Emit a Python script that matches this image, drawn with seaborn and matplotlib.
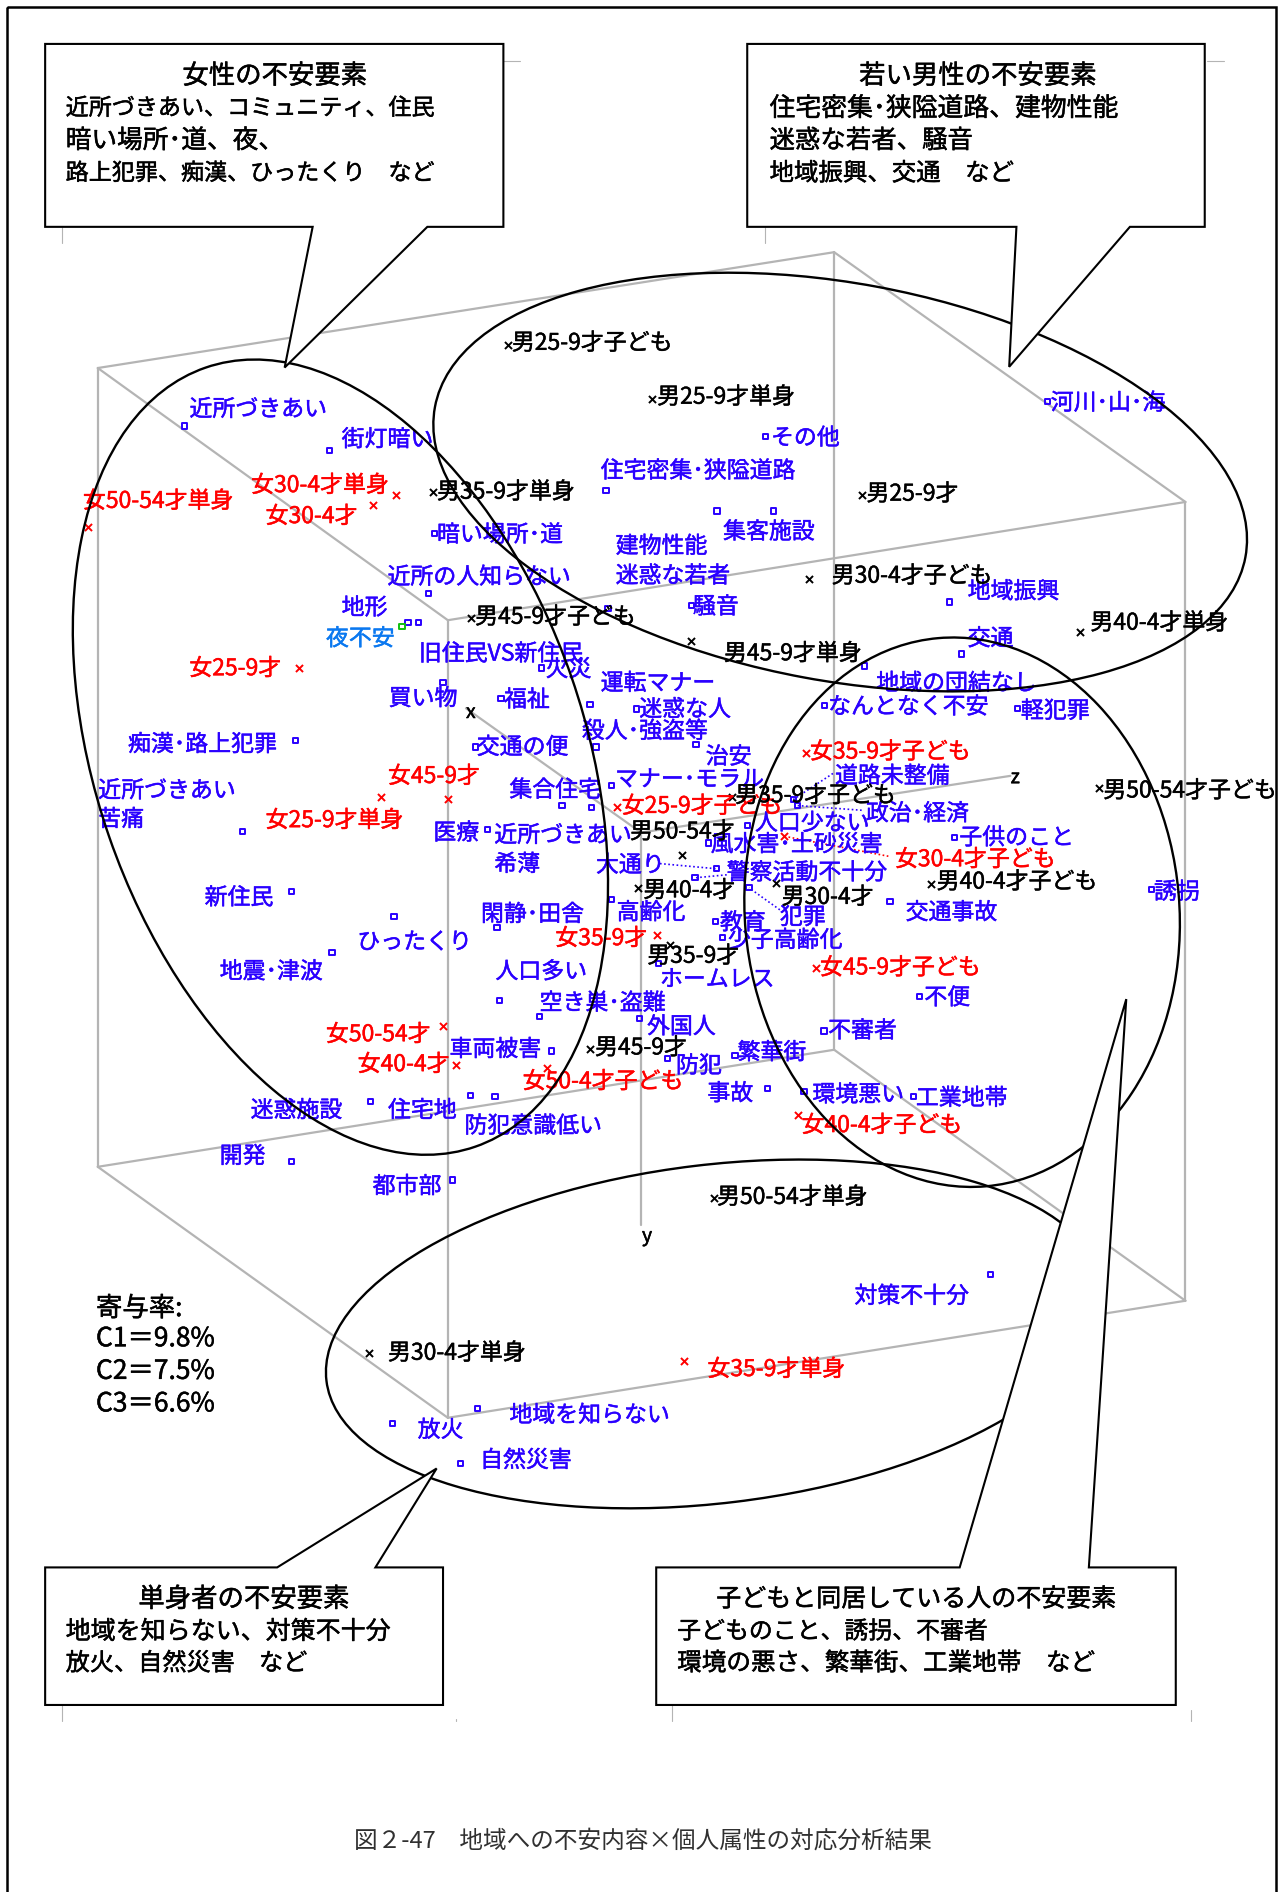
import matplotlib
matplotlib.use("Agg")
import matplotlib.pyplot as plt
import matplotlib.patheffects as pe
from matplotlib.patches import Ellipse, Polygon, Rectangle
import seaborn as sns

# ---- data (units: 1062 x 1568 page space) ----
blue_labels = ["近所づきあい","街灯暗い","暗い場所･道","近所の人知らない","地形","旧住民VS新住民","買い物","火災","福祉","運転マナー",
 "迷惑な人","殺人･強盗等","治安","交通の便","マナー･モラル","集合住宅","医療","近所づきあい","大通り","警察活動不十分",
 "犯罪","高齢化","教育","少子高齢化","ホームレス","空き巣･盗難","外国人","人口多い","閑静･田舎","新住民",
 "ひったくり","地震･津波","車両被害","迷惑施設","住宅地","防犯意識低い","開発","都市部","痴漢･路上犯罪","近所づきあい",
 "住宅密集･狭隘道路","その他","集客施設","建物性能","迷惑な若者","騒音","河川･山･海","地域振興","交通","地域の団結なし",
 "なんとなく不安","軽犯罪","道路未整備","政治･経済","人口少ない","風水害･土砂災害","子供のこと","交通事故","誘拐","不便",
 "不審者","防犯","繁華街","事故","環境悪い","工業地帯","対策不十分","地域を知らない","放火","自然災害"]
blue_mx = [153,273,360,355,347,338,367,448.5,415,488.7,
 527,493.7,576.5,393.6,506.7,465.6,490.3,403.8,593.7,575.7,
 620.5,506.7,593,598.6,545.3,447,529.6,413.6,411.7,241.5,
 326.4,275,457,306.8,390,410,241.5,375,245,201,
 502,634,640.8,594,503.6,572.6,867.7,786.6,796.8,716,
 682.8,843,657,660.5,619,586.8,791,737.2,954,762,
 682.6,553,608.9,636,666,756.8,820.5,395.3,325,381.7]
blue_my = [353,373.5,442,492,516,516,565.5,553.6,578.7,584,
 587.6,619,617,619,650.8,667.6,669,687.5,720,727.5,
 735.8,745.5,763.4,777,798.5,842.7,844.3,829,769,739,
 759.3,789.4,871,912.8,907.8,909,962.8,978,614,689,
 406.7,361.7,423.5,423.5,504,501.6,333,498.9,542,552,
 585,587.5,662.7,667.6,684,698.6,693.9,747.4,737,825.6,
 854.5,877,874.7,902,904.7,908.9,1056,1167.5,1180,1213]
blue_lx = [157,283,362,321,283,347,322,452,417.5,497.6,
 529.6,482,584.6,395,509.5,422,359,409.5,493.7,602,
 646,510.8,596.4,603,546.7,447,536,410.4,398.4,169.5,
 296,182,372.4,207.6,321.4,384.8,182,308.7,106,81.4,
 497.6,638.7,599,510,510,574,870.4,801.6,801.6,725.9,
 686,845.7,691.7,717.3,625.4,588.7,794.7,750.2,956,765.7,
 686,560,611,586,673,758.7,707.8,422,346,397.7]
blue_ly = [338,363,442,477,502.5,540.6,577.6,553.6,578.7,565,
 586.7,604.7,626,618,644.7,653.5,689,691,715.7,722,
 759,755,763.4,778,810.4,830,849.6,804,756.5,742.7,
 779.5,804,868.4,919,919,931.9,957,982,615.7,654,
 389,361.7,439.5,451.4,476,501.6,332.7,489,528,565,
 584.5,588,642,673,681,698.6,693,755,738,825.6,
 853,882,871,905,906,908.9,1073,1171.6,1184,1209]
blue_note_labels = ["希薄","苦痛"]
blue_note_lx = [409.5,81.4]
blue_note_ly = [715,677.8]

red_labels = ["女50-54才単身","女30-4才単身","女30-4才","女25-9才","女45-9才","女25-9才単身","女25-9才子ども","女35-9才子ども",
 "女30-4才子ども","女35-9才","女45-9才子ども","女50-54才","女40-4才","女50-4才子ども","女40-4才子ども","女35-9才単身"]
red_mx = [72.5,327.7,309.3,247.5,371,315.7,510.8,667.4,649.4,544.5,676,367.3,377.8,453,661,566.6]
red_my = [436.8,410,418.3,553.6,662,660.7,669,624,693,775,802,850.4,883,885,924,1128]
red_lx = [68.7,208,220,156.8,321.4,220,515,671,741.4,460,679.3,270,296.3,433,664,586]
red_ly = [414,400.9,426.6,552.7,642,678.6,666.8,621.8,711,776.4,800.7,856,880.8,895,931.3,1133.5]

black_labels = ["男25-9才子ども","男25-9才単身","男35-9才単身","男25-9才","男30-4才子ども","男45-9才子ども","男45-9才単身","男40-4才単身",
 "男35-9才子ども","男50-54才子ども","男50-54才","男40-4才","男30-4才","男40-4才子ども","男35-9才","男45-9才","男50-54才単身","男30-4才単身"]
black_mx = [421,540.4,358.8,714.4,670.3,390.5,572.6,894.8,606,910,564.7,528.8,642.8,771.2,555,488.7,591.2,305.8]
black_my = [286,330.7,408,410,479.8,512,531.5,523.7,660.5,653,708.8,735.8,732.2,732.5,782.8,869,992.7,1121]
black_lx = [424,544.4,362,717.8,689,393.6,599.7,903.3,609,914,521.9,532.9,647.5,775.9,536.2,492.9,594,321.4]
black_ly = [283,327.7,406.4,408,476,510,540.3,514.9,658,654,688,736.7,742.2,729.5,791,867,990.8,1120]

green_labels = ["夜不安"]
green_mx = [333]; green_my = [519]; green_lx = [270]; green_ly = [528]

blue_leader_x = [(546.7,593.7),(602,575.7),(646,620.5),(690,657),(713.8,660.5)]
blue_leader_y = [(715.7,720),(725,727.5),(754,735.8),(641,662.7),(671.5,667.6)]
red_leader_x = [(735.9,649.4)]
red_leader_y = [(709.6,693)]

cube_x = [(81,691),(691,982),(982,371),(371,81),(81,81),(691,691),(982,982),(371,371),(81,691),(691,982),(982,371),(371,81)]
cube_y = [(305,209),(209,416),(416,514),(514,305),(305,967),(209,870),(416,1078),(514,1175),(967,870),(870,1078),(1078,1175),(1175,967)]
axis_x = [(386,531),(531,837),(531,531)]
axis_y = [(587,690),(690,643),(690,1015)]
axis_labels = ["x","y","z"]
axis_lx = [390,536,841]
axis_ly = [589,1023,643]

ell_cx = [282,696,797,592]
ell_cy = [627.5,399.5,756,1105.5]
ell_w = [683.2,682.8,456,647.8]
ell_h = [405.2,329.4,360,280.4]
ell_a = [70.9,10.5,85,-6.9]

box_x0 = [37.4,619,37.4,543.6]
box_x1 = [417,998,367,974]
box_y0 = [36.4,36.4,1299,1299]
box_y1 = [188,188,1413,1413]
wedge_a = [259,842,229.6,795]
wedge_b = [354,936,311,902]
tip_x = [235.8,836,361.7,933]
tip_y = [304.6,304,1217,828]

box_titles = ["女性の不安要素","若い男性の不安要素","単身者の不安要素","子どもと同居している人の不安要素"]
box_title_cx = [227.6,810,202,759]
box_title_y = [61.6,61.6,1324,1324]
box_title_size = [19,19,19,18]
box_lines = [["近所づきあい、コミュニティ、住民","暗い場所･道、夜、","路上犯罪、痴漢、ひったくり　など"],
             ["住宅密集･狭隘道路、建物性能","迷惑な若者、騒音","地域振興、交通　など"],
             ["地域を知らない、対策不十分","放火、自然災害　など"],
             ["子どものこと、誘拐、不審者","環境の悪さ、繁華街、工業地帯　など"]]
box_line_size = [[16.6,18.5,16.6],[18.6,18.3,17.6],[18,17.4],[17.2,17.7]]
box_line_x = [54.4,637.5,54.4,561]
box_line_y = [[88.4,115.4,142.3],[88.4,115.4,142.3],[1351,1377],[1351,1377]]

contrib_lines = ["寄与率:","C1＝9.8%","C2＝7.5%","C3＝6.6%"]
contrib_x = 79.5
contrib_y = [1083,1108,1135,1162]
caption = "図２-47　地域への不安内容×個人属性の対応分析結果"

tick_x = [(417,431),(1000,1014),(51,51),(634,634),(51,51),(557,557),(987,987),(378,378)]
tick_y = [(50.8,50.8),(50.8,50.8),(188,201.7),(188,201.7),(1413,1426),(1413,1426),(1417,1426),(1425,1426.5)]

BLUE = "#2a00ff"; RED = "#ff0000"; AZURE = "#0a78f0"; GREEN = "#10c010"; GRAY = "#b4b4b4"

sns.set_theme(style="white")
plt.rcParams["font.family"] = ["Noto Sans CJK JP", "DejaVu Sans"]

fig = plt.figure(figsize=(12.82, 18.92), dpi=100)
ax = fig.add_axes([0, 0, 1, 1])

for xs, ys in zip(cube_x, cube_y):
    ax.plot(xs, ys, color=GRAY, lw=1.6, zorder=1, solid_capstyle="round")
for xs, ys in zip(axis_x, axis_y):
    ax.plot(xs, ys, color=GRAY, lw=1.6, zorder=1)
for xs, ys in zip(tick_x, tick_y):
    ax.plot(xs, ys, color=GRAY, lw=0.8, zorder=1)

for xs, ys in zip(blue_leader_x, blue_leader_y):
    ax.plot(xs, ys, color=BLUE, lw=1.2, ls=(0, (1, 1.5)), zorder=2)
for xs, ys in zip(red_leader_x, red_leader_y):
    ax.plot(xs, ys, color=RED, lw=1.2, ls=(0, (1, 1.5)), zorder=2)

def squares(mx, my, col):
    sns.scatterplot(x=mx, y=my, marker="s", s=14, color=col, linewidth=1.4, ax=ax, zorder=3, legend=False)
    pts = ax.collections[-1]
    pts.set_facecolor("none")
    pts.set_edgecolor(col)

def crosses(mx, my, col):
    sns.scatterplot(x=mx, y=my, marker="x", s=26, color=col, linewidth=1.4, ax=ax, zorder=3, legend=False)

squares(blue_mx, blue_my, BLUE)
squares(green_mx, green_my, GREEN)
crosses(red_mx, red_my, RED)
crosses(black_mx, black_my, "black")

LABEL = 16.5
DY = 1.5

def put(x, y, t, col, size, ha="left", z=3, bold=0.35):
    tx = ax.text(x, y + DY, t, color=col, fontsize=size, ha=ha, va="center", zorder=z)
    if bold:
        tx.set_path_effects([pe.withStroke(linewidth=bold, foreground=col)])

def labels(txt, lx, ly, col):
    for t, x, y in zip(txt, lx, ly):
        put(x, y, t, col, LABEL)

labels(blue_labels, blue_lx, blue_ly, BLUE)
labels(blue_note_labels, blue_note_lx, blue_note_ly, BLUE)
labels(red_labels, red_lx, red_ly, RED)
labels(black_labels, black_lx, black_ly, "black")
labels(green_labels, green_lx, green_ly, AZURE)

for t, x, y in zip(axis_labels, axis_lx, axis_ly):
    put(x, y, t, "black", 14, ha="center")

for cx, cy, w, h, a in zip(ell_cx, ell_cy, ell_w, ell_h, ell_a):
    ax.add_patch(Ellipse((cx, cy), w, h, angle=a, fill=False, ec="black", lw=1.7, zorder=4))

for i in range(4):
    x0, x1, y0, y1 = box_x0[i], box_x1[i], box_y0[i], box_y1[i]
    if tip_y[i] > y1:
        pts = [(x0, y0), (x1, y0), (x1, y1), (wedge_b[i], y1), (tip_x[i], tip_y[i]), (wedge_a[i], y1), (x0, y1)]
    else:
        pts = [(x0, y0), (wedge_a[i], y0), (tip_x[i], tip_y[i]), (wedge_b[i], y0), (x1, y0), (x1, y1), (x0, y1)]
    ax.add_patch(Polygon(pts, closed=True, fc="white", ec="black", lw=1.5, zorder=5, joinstyle="miter"))
    put(box_title_cx[i], box_title_y[i], box_titles[i], "black", box_title_size[i], ha="center", z=6)
    for t, y, s in zip(box_lines[i], box_line_y[i], box_line_size[i]):
        put(box_line_x[i], y, t, "black", s, z=6)

for t, y in zip(contrib_lines, contrib_y):
    put(contrib_x, y, t, "black", 19)

put(532.5, 1524, caption, "#303030", 17, ha="center", bold=0)

# page frame: the bottom edge falls outside the page
ax.add_patch(Rectangle((5.5, 5.5), 1051.5, 1600, fill=False, ec="black", lw=1.8, zorder=7))

ax.set_xlim(0, 1062)
ax.set_ylim(1568, 0)
ax.axis("off")
fig.savefig("out.png", dpi=100, facecolor="white")
